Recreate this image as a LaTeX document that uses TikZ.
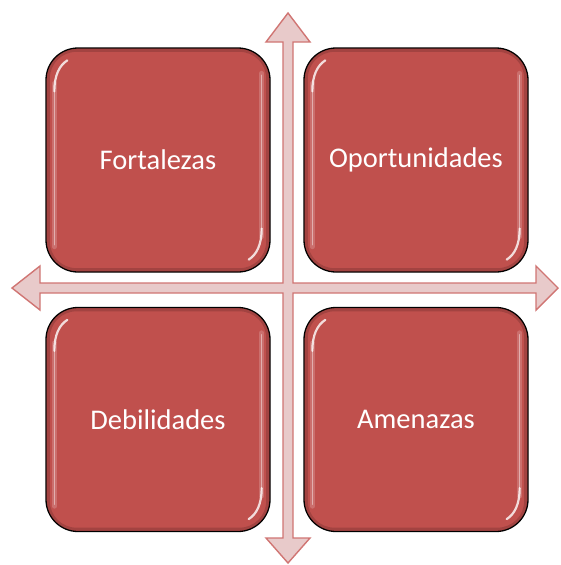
\documentclass[tikz,border=0pt]{standalone}
\usepackage{fontspec}
\setmainfont{Carlito}
\usetikzlibrary{calc}
\definecolor{boxred}{HTML}{C0504D}
\definecolor{arrfill}{HTML}{E8CACA}
\definecolor{arrline}{HTML}{D07573}
\tikzset{
  swotbox/.style={rounded corners=32pt, minimum width=224pt, minimum height=224pt,
    fill=boxred, draw=black, line width=1.3pt, text=white, inner sep=0pt,
    font=\fontsize{28.5}{34}\selectfont},
  crossarrow/.style={fill=arrfill, draw=arrline, line width=1.4pt, line join=miter},
  glosswide/.style={white, line width=5pt, opacity=0.18, line cap=round},
  glossline/.style={white, line width=1.6pt, opacity=0.45, line cap=round},
  glossbright/.style={white, line width=2.2pt, opacity=0.8, line cap=round},
  rimline/.style={draw=black!60!boxred, line width=3pt, opacity=0.25, rounded corners=28pt}
}
\newcommand{\glossify}[1]{%
  \draw[rimline] ($(#1.north west)+(3,3)$) rectangle ($(#1.south east)+(-3,-3)$);
  \draw[glosswide] ($(#1.north west)+(9,36)$) -- ($(#1.south west)+(9,-26)$);
  \draw[glossline] ($(#1.north west)+(9,42)$) -- ($(#1.south west)+(9,-28)$);
  \draw[glossbright] ($(#1.north west)+(9,44)$) .. controls ($(#1.north west)+(9,28)$) and ($(#1.north west)+(14,18)$) .. ($(#1.north west)+(22,13)$);
  \draw[glosswide] ($(#1.north east)+(-9,26)$) -- ($(#1.south east)+(-9,-36)$);
  \draw[glossline] ($(#1.north east)+(-9,28)$) -- ($(#1.south east)+(-9,-42)$);
  \draw[glossbright] ($(#1.south east)+(-9,-44)$) .. controls ($(#1.south east)+(-9,-28)$) and ($(#1.south east)+(-14,-18)$) .. ($(#1.south east)+(-22,-13)$);
}
\begin{document}
\begin{tikzpicture}[x=1pt,y=-1pt]
\useasboundingbox (0,0) rectangle (560,565);
% cross arrow
\coordinate (C) at (288,288);
\draw[crossarrow]
  (288,13) -- (310,42) -- (293,42) -- (293,283) -- (536,283) -- (536,266) -- (558,288)
  -- (536,310) -- (536,293) -- (293,293) -- (293,538) -- (310,538) -- (288,563)
  -- (266,538) -- (283,538) -- (283,293) -- (40,293) -- (40,310) -- (12,288)
  -- (40,266) -- (40,283) -- (283,283) -- (283,42) -- (266,42) -- cycle;
% boxes
\node[swotbox] (F) at (158,160) {Fortalezas};
\node[swotbox] (O) at (416,160) {Oportunidades};
\node[swotbox] (D) at (158,419.5) {Debilidades};
\node[swotbox] (A) at (416,419.5) {Amenazas};
\glossify{F}
\glossify{O}
\glossify{D}
\glossify{A}
\end{tikzpicture}
\end{document}
